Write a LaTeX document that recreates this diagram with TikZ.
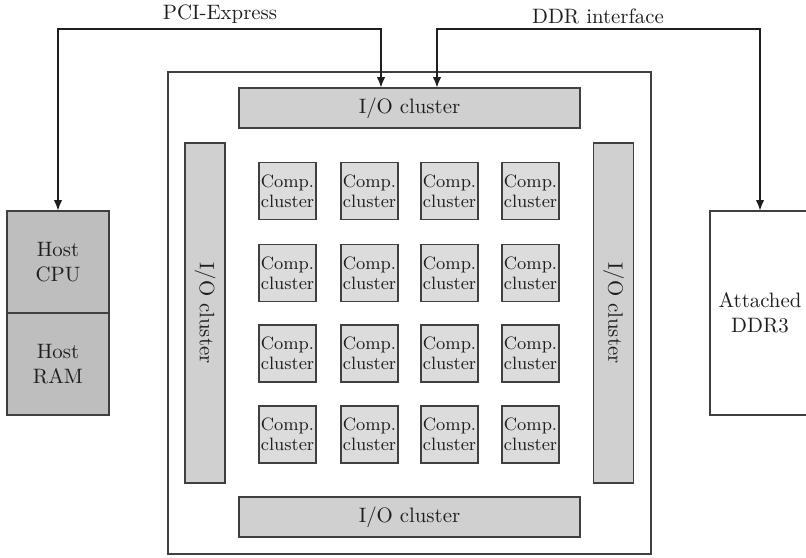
\documentclass[tikz,border=0pt]{standalone}
\usetikzlibrary{arrows.meta}
\def\pxu{0.48pt}
\definecolor{edge}{HTML}{404040}
\definecolor{hostfill}{HTML}{BEBEBE}
\definecolor{iofill}{HTML}{D0D0D0}
\definecolor{compfill}{HTML}{DCDCDC}
\definecolor{ink}{HTML}{1E1E1E}
\tikzset{
  box/.style={draw=edge, line width=0.5pt, inner sep=0pt, align=center, text=ink},
  iobox/.style={box, fill=iofill},
  compbox/.style={box, fill=compfill, font=\fontsize{8.6}{9.6}\selectfont, minimum width=57*\pxu, minimum height=57*\pxu},
  hostbox/.style={box, fill=hostfill, minimum width=102*\pxu, minimum height=102*\pxu},
  link/.style={draw=ink, line width=0.5pt, {Latex[length=5pt,width=4pt]}-{Latex[length=5pt,width=4pt]}},
}
\begin{document}
\begin{tikzpicture}[x=\pxu, y=-\pxu]
\useasboundingbox (0,0) rectangle (806,557);
\clip (0,0) rectangle (806,557);

% chip outline
\node[box, minimum width=483*\pxu, minimum height=482*\pxu] (chip) at (409.5,313) {};

% I/O clusters around the chip edge
\node[iobox, minimum width=341*\pxu, minimum height=40*\pxu] (iotop) at (409.5,108) {I/O cluster};
\node[iobox, minimum width=341*\pxu, minimum height=40*\pxu] (iobot) at (409.5,517) {I/O cluster};
\node[iobox, minimum width=340*\pxu, minimum height=40*\pxu, rotate=-90] (ioleft) at (205,313) {I/O cluster};
\node[iobox, minimum width=340*\pxu, minimum height=40*\pxu, rotate=-90] (ioright) at (613.5,313) {I/O cluster};

% 4x4 grid of compute clusters
\foreach \cx [count=\i] in {287.5,369.5,449.5,530.5}
  \foreach \cy [count=\j] in {191,273,353.5,434.5}
    \node[compbox] (c\i\j) at (\cx,\cy) {Comp.\\cluster};

% host side
\node[hostbox] (cpu) at (58,262) {Host\\CPU};
\node[hostbox] (ram) at (58,364) {Host\\RAM};

% external memory
\node[box, minimum width=100*\pxu, minimum height=204*\pxu] (ddr) at (760,313) {Attached\\DDR3};

% links
\coordinate (pcibend) at (381,29);
\coordinate (ddrbend) at (437,29);
\draw[link] (cpu.north) |- (pcibend) -- (pcibend |- iotop.north);
\draw[link] (ddrbend |- iotop.north) -- (ddrbend) -| (ddr.north);

\node[text=ink] (pcilbl) at (220,14) {PCI-Express};
\node[text=ink] (ddrlbl) at (598,16) {DDR interface};
\end{tikzpicture}
\end{document}
